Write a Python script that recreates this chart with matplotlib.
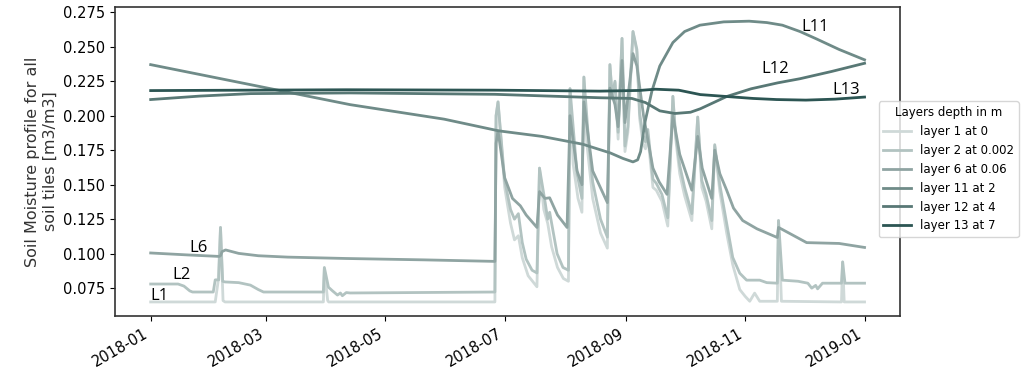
import numpy as np
import pandas as pd
import matplotlib
matplotlib.use("Agg")
import matplotlib.pyplot as plt
import matplotlib.dates as mdates

# Tage ab 2018-01-01 und Bodenfeuchte je Schicht
start = pd.Timestamp("2018-01-01")

l1_days = [0, 33, 34.5, 35.7, 37, 38, 88.3, 88.8, 90.5, 91, 176, 176.6, 177.6, 181, 184, 186, 188, 190, 193, 197.5,
           198.8, 201, 203, 205, 208, 211, 213.6, 214.4, 216, 218.5, 220.5, 221.5, 223, 226, 230, 233.5, 234.8, 236,
           237.4, 239, 241, 242.5, 244, 246.6, 248.6, 250, 251.7, 253, 254.2, 256.8, 258.5, 261.4, 264.4, 267, 268.3,
           270.5, 273, 276.7, 279.7, 281.8, 284, 286.9, 288.4, 291, 294.5, 297.6, 301.2, 304, 306.3, 308.8, 311.4,
           320.4, 321, 322.5, 353.2, 353.8, 354.6, 365]
l1_vals = [0.065, 0.065, 0.080, 0.119, 0.066, 0.065, 0.065, 0.089, 0.066, 0.065, 0.065, 0.200, 0.210, 0.148, 0.122,
           0.110, 0.113, 0.097, 0.084, 0.076, 0.162, 0.132, 0.122, 0.105, 0.090, 0.082, 0.080, 0.2196, 0.165, 0.140,
           0.130, 0.228, 0.180, 0.140, 0.115, 0.104, 0.237, 0.212, 0.224, 0.183, 0.256, 0.174, 0.188, 0.261, 0.246,
           0.198, 0.180, 0.176, 0.185, 0.148, 0.146, 0.138, 0.120, 0.214, 0.185, 0.158, 0.142, 0.124, 0.199, 0.148,
           0.138, 0.118, 0.178, 0.145, 0.115, 0.092, 0.074, 0.069, 0.0655, 0.0714, 0.0655, 0.0655, 0.124, 0.0655,
           0.065, 0.094, 0.065, 0.065]

l2_days = [0, 14, 17, 20, 21.4, 32, 33, 34.8, 35.7, 36.8, 38, 45, 51, 55, 57.7, 88.3, 88.8, 90.9, 93, 95.5, 97, 98,
           100, 102, 176, 176.6, 177.6, 181, 184, 186, 188, 190, 192, 195, 197.5, 198.8, 201.6, 203, 204, 207.8,
           210.8, 213.6, 214.4, 218, 220.5, 221.5, 224, 226, 230, 233.5, 234.8, 236, 237.4, 239, 241, 242.5, 244,
           246.6, 248.6, 250, 251.7, 253, 254.2, 256.8, 258.5, 261.4, 264.4, 267, 268.3, 270.5, 273, 276.7, 279.7,
           281.8, 284, 286.9, 288.4, 291, 294.5, 297.6, 301.2, 304.7, 311.4, 315, 320.4, 321, 323, 331, 336, 338,
           340, 341, 343.5, 353.2, 353.8, 355, 365]
l2_vals = [0.078, 0.078, 0.0765, 0.073, 0.0722, 0.0722, 0.081, 0.081, 0.119, 0.080, 0.0795, 0.079, 0.0772, 0.074,
           0.0722, 0.0722, 0.090, 0.0757, 0.073, 0.070, 0.0715, 0.0695, 0.0718, 0.0715, 0.0722, 0.200, 0.210, 0.153,
           0.132, 0.125, 0.129, 0.108, 0.096, 0.088, 0.086, 0.162, 0.138, 0.125, 0.130, 0.100, 0.090, 0.088, 0.2196,
           0.158, 0.140, 0.228, 0.180, 0.152, 0.125, 0.112, 0.237, 0.214, 0.225, 0.188, 0.256, 0.178, 0.192, 0.261,
           0.248, 0.202, 0.186, 0.181, 0.190, 0.154, 0.151, 0.143, 0.126, 0.214, 0.188, 0.164, 0.148, 0.129, 0.199,
           0.153, 0.143, 0.124, 0.179, 0.150, 0.122, 0.0973, 0.0858, 0.0808, 0.0808, 0.0790, 0.0786, 0.124, 0.0808,
           0.080, 0.0786, 0.075, 0.077, 0.0745, 0.0786, 0.0786, 0.094, 0.0786, 0.0786]

l6_days = [0, 20, 35, 35.7, 36.5, 38.3, 45, 55, 70, 100, 140, 176, 176.6, 177.6, 181, 185, 189, 192, 197.5, 198.8,
           201.6, 204, 208, 212.9, 214.4, 218, 220.5, 221.5, 226, 233.5, 234.8, 237.4, 239, 241, 242.5, 246.6, 248.6,
           252, 256.8, 260, 264, 267, 270.5, 276.7, 279.7, 282, 286.9, 288.4, 291, 294.5, 298, 302.7, 310, 320.4,
           321, 323, 335.4, 352, 365]
l6_vals = [0.1005, 0.099, 0.098, 0.0985, 0.1015, 0.1027, 0.1002, 0.0985, 0.0975, 0.0965, 0.0955, 0.0944, 0.180,
           0.189, 0.155, 0.140, 0.1347, 0.128, 0.119, 0.145, 0.140, 0.1405, 0.128, 0.119, 0.200, 0.160, 0.150, 0.210,
           0.160, 0.137, 0.220, 0.208, 0.192, 0.240, 0.195, 0.245, 0.236, 0.200, 0.162, 0.152, 0.143, 0.200, 0.172,
           0.146, 0.185, 0.162, 0.140, 0.175, 0.158, 0.146, 0.133, 0.124, 0.118, 0.1117, 0.119, 0.1175, 0.108,
           0.1074, 0.1045]

l11_days = [0, 51, 102, 150, 178, 200, 221, 235, 241.5, 246.6, 249, 250.5, 252.7, 256.3, 260.3, 267, 273, 280.8,
            293, 306, 315, 323, 332, 340.5, 352, 365]
l11_vals = [0.237, 0.2225, 0.208, 0.1975, 0.189, 0.185, 0.1793, 0.173, 0.169, 0.1665, 0.168, 0.174, 0.195, 0.218,
            0.236, 0.253, 0.261, 0.2656, 0.268, 0.2685, 0.2675, 0.2656, 0.261, 0.2556, 0.248, 0.2405]

l12_days = [0, 25, 51, 102, 176, 229.7, 246, 253, 260.3, 268, 276, 281, 294.5, 307, 320.6, 332, 348, 365]
l12_vals = [0.2117, 0.2142, 0.216, 0.2165, 0.2155, 0.213, 0.2125, 0.2095, 0.2035, 0.2016, 0.2025, 0.205, 0.2139,
            0.2195, 0.2238, 0.2268, 0.232, 0.238]

l13_days = [0, 100, 176, 229.7, 250, 258, 270, 281, 294.5, 308, 320, 335, 350, 365]
l13_vals = [0.2182, 0.2188, 0.2185, 0.2178, 0.2183, 0.2192, 0.2185, 0.2153, 0.2139, 0.2125, 0.2117, 0.2113, 0.212,
            0.2135]

labels = ["layer 1 at 0", "layer 2 at 0.002", "layer 6 at 0.06", "layer 11 at 2", "layer 12 at 4", "layer 13 at 7"]
colors = ["#cfd9d8", "#b2c3c1", "#8fa4a2", "#6f8b88", "#587875", "#2c5553"]

layers = [(l1_days, l1_vals), (l2_days, l2_vals), (l6_days, l6_vals),
          (l11_days, l11_vals), (l12_days, l12_vals), (l13_days, l13_vals)]

fig = plt.figure(figsize=(10.23, 3.76), dpi=100)
ax = fig.add_axes([0.1124, 0.1596, 0.7676, 0.8214])

for (d, v), lab, col in zip(layers, labels, colors):
    t = start + pd.to_timedelta(np.array(d), unit="D")
    ax.plot(t, v, color=col, lw=2, label=lab)

ax.xaxis.set_major_locator(mdates.MonthLocator(bymonth=[1, 3, 5, 7, 9, 11]))
ax.xaxis.set_major_formatter(mdates.DateFormatter("%Y-%m"))
plt.setp(ax.get_xticklabels(), rotation=30, ha="right")
ax.tick_params(labelsize=10.5)
ax.set_yticks([0.075, 0.1, 0.125, 0.15, 0.175, 0.2, 0.225, 0.25, 0.275])
for s in ax.spines.values():
    s.set_color("#333333")
    s.set_linewidth(1.2)

ax.set_ylabel("Soil Moisture profile for all\nsoil tiles [m3/m3]", fontsize=11.5, color="#333333")

leg = ax.legend(title="Layers depth in m", loc="center left", bbox_to_anchor=(0.968, 0.475),
                fontsize=8.5, title_fontsize=8.5, handlelength=2.3, borderaxespad=0.3)

# Beschriftungen der Schichten
def lab_at(day, y, txt):
    ax.text(start + pd.Timedelta(days=day), y, txt, fontsize=12, family="Open Sans", va="center")

lab_at(0, 0.0692, "L1")
lab_at(11.2, 0.0844, "L2")
lab_at(19.9, 0.1038, "L6")
lab_at(332.8, 0.2642, "L11")
lab_at(312.4, 0.234, "L12")
lab_at(348.6, 0.2189, "L13")

fig.savefig("out.png", dpi=100)
